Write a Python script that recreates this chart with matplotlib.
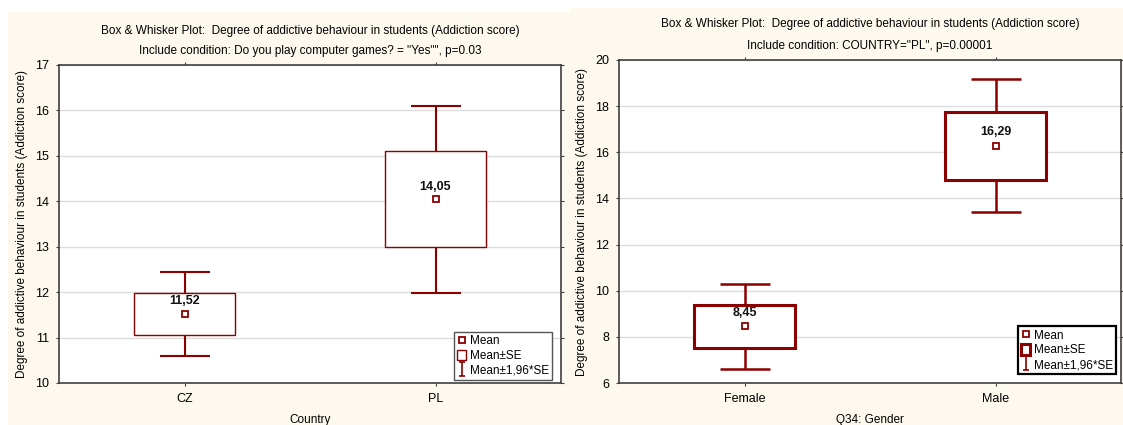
import matplotlib
matplotlib.use("Agg")
import matplotlib.pyplot as plt
from matplotlib.lines import Line2D
from matplotlib.patches import Patch, Rectangle
from matplotlib.path import Path

plt.rcParams['font.family'] = ['Liberation Sans', 'DejaVu Sans']

# left panel: Country
left_cats = ["CZ", "PL"]
left_means = [11.52, 14.05]
left_se = [0.47, 1.05]
left_labels = ["11,52", "14,05"]

# right panel: Gender
right_cats = ["Female", "Male"]
right_means = [8.45, 16.29]
right_se = [0.95, 1.47]
right_labels = ["8,45", "16,29"]

title1 = "Box & Whisker Plot:  Degree of addictive behaviour in students (Addiction score)"
left_title2 = 'Include condition: Do you play computer games? = "Yes"", p=0.03'
right_title2 = 'Include condition: COUNTRY="PL", p=0.00001'
ylab = "Degree of addictive behaviour in students (Addiction score)"

RED = "#8B0000"
CREAM = "#fdf9ee"

fig = plt.figure(figsize=(11.23, 4.25), dpi=100, facecolor="white")
# panel backgrounds
fig.patches.append(Rectangle((8 / 1123, 0), 562 / 1123, 413 / 425, transform=fig.transFigure,
                             facecolor=CREAM, edgecolor="none", zorder=-10))
fig.patches.append(Rectangle((570 / 1123, 0), 553 / 1123, 417 / 425, transform=fig.transFigure,
                             facecolor=CREAM, edgecolor="none", zorder=-10))

i_path = Path([(-0.5, 1), (0.5, 1), (0, 1), (0, -1), (-0.5, -1), (0.5, -1)],
              [Path.MOVETO, Path.LINETO, Path.MOVETO, Path.LINETO, Path.MOVETO, Path.LINETO])


def draw_panel(ax, cats, means, se, labels, ylim, yticks, xlabel, title2, box_lw, wh_lw,
               leg_edge, leg_lw, leg_anchor, lab_off, title_pad, title_ls):
    x = list(range(len(cats)))
    lo = [m - 1.96 * s for m, s in zip(means, se)]
    hi = [m + 1.96 * s for m, s in zip(means, se)]
    ax.errorbar(x, means, yerr=[[m - l for m, l in zip(means, lo)], [h - m for m, h in zip(means, hi)]],
                fmt="none", ecolor=RED, elinewidth=wh_lw, capsize=18, capthick=wh_lw, zorder=2)
    ax.bar(x, [2 * s for s in se], bottom=[m - s for m, s in zip(means, se)], width=0.4,
           facecolor="white", edgecolor=RED, linewidth=box_lw, zorder=3)
    ax.plot(x, means, ls="none", marker="s", ms=4, mfc="white", mec=RED, mew=1.3, zorder=4)
    for xi, m, t in zip(x, means, labels):
        ax.annotate(t, (xi, m), xytext=(0, lab_off), textcoords="offset points",
                    ha="center", va="center", fontsize=9, fontweight="bold", color="#111111")

    ax.set_xlim(-0.5, len(cats) - 0.5)
    ax.set_ylim(*ylim)
    ax.set_yticks(yticks)
    ax.set_xticks(x)
    ax.set_xticklabels(cats)
    ax.grid(axis="y", color="#dcdcdc", lw=1)
    ax.set_axisbelow(True)
    ax.tick_params(direction="out", length=2, width=0.8, color="#404040", labelsize=9,
                   top=True, right=True, pad=5)
    for sp in ax.spines.values():
        sp.set_color("#404040")
        sp.set_linewidth(1.2)
    ax.set_xlabel(xlabel, fontsize=8.5, labelpad=7)
    ax.set_ylabel(ylab, fontsize=8.5, labelpad=5)
    ax.set_title(title1 + "\n" + title2, fontsize=8.5, linespacing=title_ls, pad=title_pad)

    handles = [
        Line2D([], [], ls="none", marker="s", ms=4, mfc="white", mec=RED, mew=1.3),
        Patch(facecolor="white", edgecolor=RED, linewidth=box_lw),
        Line2D([], [], ls="none", marker=i_path, ms=10, mec=RED, mew=1.2),
    ]
    leg = ax.legend(handles, ["Mean", "Mean\u00b1SE", "Mean\u00b11,96*SE"], loc="lower right",
                    bbox_to_anchor=leg_anchor, fontsize=8.5, fancybox=False, framealpha=1,
                    edgecolor=leg_edge, handlelength=0.8, handleheight=1.0, handletextpad=0.3,
                    borderpad=0.25, labelspacing=0.2, borderaxespad=0)
    leg.get_frame().set_linewidth(leg_lw)
    leg.set_zorder(10)


ax1 = fig.add_axes([59 / 1123, 42 / 425, 502 / 1123, 318 / 425])
draw_panel(ax1, left_cats, left_means, left_se, left_labels, (10, 17), range(10, 18),
           "Country", left_title2, 1.0, 1.5, "#555555", 1.0, (0.982, 0.01), 9, 8, 1.9)

ax2 = fig.add_axes([619 / 1123, 42 / 425, 502 / 1123, 323 / 425])
draw_panel(ax2, right_cats, right_means, right_se, right_labels, (6, 20), range(6, 21, 2),
           "Q34: Gender", right_title2, 2.2, 1.8, "black", 1.6, (0.99, 0.028), 10, 8, 2.05)

fig.savefig("out.png", dpi=100)
